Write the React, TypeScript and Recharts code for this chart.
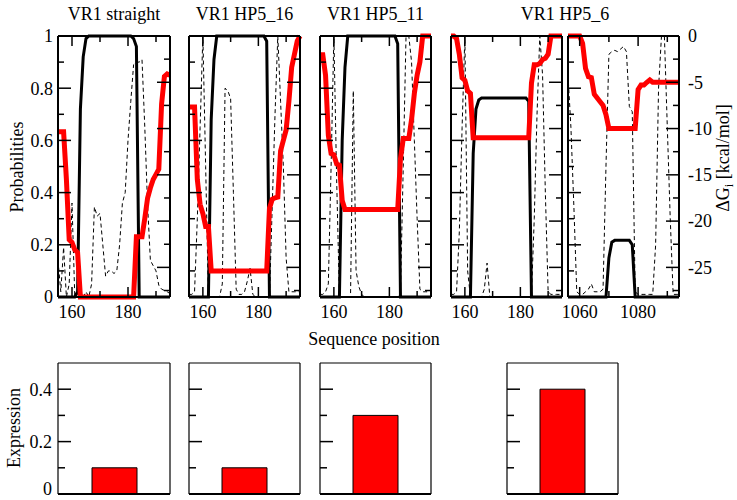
import React from 'react';
import { ComposedChart, Line, XAxis, YAxis, BarChart, Bar } from 'recharts';

const FONT = '"Liberation Serif", "Times New Roman", serif';
const TXT = { fontFamily: FONT, fontSize: 18 };

// ---------- categories / ticks ----------
const panelTitles = ['VR1 straight', 'VR1 HP5_16', 'VR1 HP5_11', 'VR1 HP5_6'];
const positionsVR1 = [155,156,157,158,159,160,161,162,163,164,165,166,167,168,169,170,171,172,173,174,175,176,177,178,179,180,181,182,183,184,185,186,187,188,189,190,191,192,193,194,195];
const positionsHP56 = [1056,1057,1058,1059,1060,1061,1062,1063,1064,1065,1066,1067,1068,1069,1070,1071,1072,1073,1074,1075,1076,1077,1078,1079,1080,1081,1082,1083,1084,1085,1086,1087,1088,1089,1090,1091,1092,1093,1094];
const xTicksVR1 = [160, 170, 180, 190];
const xLabelsVR1 = [160, 180];
const xTicksHP56 = [1060, 1070, 1080, 1090];
const xLabelsHP56 = [1060, 1080];
const probTicks = [0, 0.1, 0.2, 0.3, 0.4, 0.5, 0.6, 0.7, 0.8, 0.9, 1];
const dgTicks = [0, -2.5, -5, -7.5, -10, -12.5, -15, -17.5, -20, -22.5, -25, -27.5];
const exprTicks = [0, 0.1, 0.2, 0.3, 0.4, 0.5];

// ---------- series: VR1 straight ----------
const straightMain = [0,0,0,0,0,0,0,0.02,0.72,0.92,0.99,1,1,1,1,1,1,1,1,1,1,1,1,1,1,1,1,0.99,0.96,0,0,0,0,0,0,0,0,0,0,0,0];
const straightAlt = [0.14,0.02,0.19,0,0.05,0.36,0,0,0,0,0.02,0,0.05,0.345,0.31,0.32,0.2,0.08,0.1,0.1,0.09,0.1,0.2,0.36,0.4,0.6,0.75,0.89,0.9,0.9,0.91,0.65,0.35,0.14,0.12,0.1,0.045,0.03,0.025,0.02,0.013];
const straightDG = [-10.35,-10.35,-10.35,-15.5,-22.0,-22.3,-23.1,-23.4,-28.2,-28.2,-28.2,-28.2,-28.2,-28.2,-28.2,-28.2,-28.2,-28.2,-28.2,-28.2,-28.2,-28.2,-28.2,-28.2,-28.2,-28.2,-28.2,-28.2,-21.7,-21.7,-21.7,-19.7,-17.5,-16.4,-15.5,-14.95,-14.38,-7.33,-4.37,-4.09,-4.23];

// ---------- series: VR1 HP5_16 ----------
const hp16Main = [0,0,0,0,0,0,0,0,0.68,0.91,1,1,1,1,1,1,1,1,1,1,1,1,1,1,1,1,1,1,0.98,0,0,0,0,0,0,0,0,0,0,0,0];
const hp16Alt = [0.01,0.01,0.02,0.3,0.65,1,0.5,0,0,0,0,0,0.05,0.8,0.79,0.76,0.4,0.03,0.01,0.01,0.02,0.06,0.11,0.01,0,0,0,0,0,0,0.35,0.7,1,0.75,0.5,0.15,0.02,0.02,0.02,0.02,0.02];
const hp16DG = [-7.67,-7.67,-7.67,-15.51,-18.19,-19.18,-20.59,-20.59,-25.38,-25.38,-25.38,-25.38,-25.38,-25.38,-25.38,-25.38,-25.38,-25.38,-25.38,-25.38,-25.38,-25.38,-25.38,-25.38,-25.38,-25.38,-25.38,-25.38,-25.38,-18.61,-17.63,-17.48,-17.4,-12.41,-11.28,-10.15,-7.05,-3.38,-1.97,-0.56,0];

// ---------- series: VR1 HP5_11 ----------
const hp11Main = [0,0,0,0,0,0,0,0,0.6,0.88,1,1,1,1,1,1,1,1,1,1,1,1,1,1,1,1,1,1,0.97,0,0,0,0,0,0,0,0,0,0,0,0];
const hp11Alt = [0.01,0.01,0.02,0.05,0.5,1,0.45,0,0,0,0,0,0.79,0.1,0.04,0.01,0,0,0,0,0,0,0,0,0,0,0,0,0,0.02,0.5,1,1,0.9,0.6,0.3,0.03,0.02,0.02,0.02,0.02];
const hp11DG = [-2.03,-2.03,-4.23,-10.72,-12.69,-12.83,-13.82,-13.96,-17.77,-18.75,-18.75,-18.75,-18.75,-18.75,-18.75,-18.75,-18.75,-18.75,-18.75,-18.75,-18.75,-18.75,-18.75,-18.75,-18.75,-18.75,-18.75,-18.75,-18.75,-13.25,-11.08,-11.08,-11.08,-9.02,-6.2,-4.23,-2.82,0,0,0,0];

// ---------- series: VR1 HP5_6 (first segment) ----------
const hp6aMain = [0,0,0,0,0,0,0,0,0.55,0.72,0.755,0.762,0.762,0.762,0.762,0.762,0.762,0.762,0.762,0.762,0.762,0.762,0.762,0.762,0.762,0.762,0.762,0.762,0.75,0,0,0,0,0,0,0,0,0,0,0,0];
const hp6aAlt = [0.01,0.01,0.02,0.25,0.65,1,0.1,0,0,0,0,0,0.03,0.13,0,0,0,0,0,0,0,0,0,0,0,0,0,0,0,0.01,0.3,0.7,1,0.85,0.4,0.02,0.01,0.01,0.01,0.01,0.01];
const hp6aDG = [0,0,-0.28,-1.97,-4.51,-4.79,-5.92,-6.2,-11.0,-11.0,-11.0,-11.0,-11.0,-11.0,-11.0,-11.0,-11.0,-11.0,-11.0,-11.0,-11.0,-11.0,-11.0,-11.0,-11.0,-11.0,-11.0,-11.0,-11.0,-5.08,-3.1,-3.1,-2.96,-2.54,-2.4,-1.97,0,0,0,0,0];

// ---------- series: VR1 HP5_6 (second segment) ----------
const hp6bMain = [0,0,0,0,0,0,0,0,0,0,0,0,0,0,0.15,0.21,0.217,0.217,0.217,0.217,0.217,0.217,0.2,0,0,0,0,0,0,0,0,0,0,0,0,0,0,0,0];
const hp6bAlt = [0.85,0.65,0.35,0.02,0.01,0.01,0.02,0.03,0.05,0.02,0.02,0.02,0.03,0.5,0.93,0.94,0.945,0.94,0.95,0.96,0.94,0.73,0.71,0.02,0.01,0.01,0.01,0.01,0.01,0.01,0.2,0.8,1,1,0.65,0.3,0.01,0.01,0.01];
const hp6bDG = [0,0,0,0,0,-0.8,-3.5,-4.4,-4.5,-6.3,-6.7,-7.1,-7.5,-8.5,-10,-10,-10,-10,-10,-10,-10,-10,-10,-10,-5.8,-5.3,-5.3,-5.0,-4.75,-5.0,-5,-5,-5,-5,-5,-5,-5,-5,-5];

// ---------- expression ----------
const expressionNames = ['VR1 straight', 'VR1 HP5_16', 'VR1 HP5_11', 'VR1 HP5_6'];
const expressionValues = [0.1, 0.1, 0.3, 0.4];

type Row = { pos: number; main: number; alt: number; dg: number };
function buildRows(pos: number[], main: number[], alt: number[], dg: number[]): Row[] {
  return pos.map((p, i) => ({ pos: p, main: main[i], alt: alt[i], dg: dg[i] }));
}

const ML = 50, MR = 50, MT = 12, MB = 30;

const fmtProb = (v: number) => (v === 0 ? '0' : v === 1 ? '1' : v.toFixed(1));

type TopProps = {
  left: number; top: number; width: number; height: number; rows: Row[];
  xDomain: [number, number]; xTicks: number[]; xLabels: number[];
  showProb: boolean; showDg: boolean;
};

function TopPanel(p: TopProps) {
  const W = p.width + ML + MR;
  const H = p.height + MT + MB;
  const plotL = ML, plotR = ML + p.width, plotT = MT, plotB = MT + p.height;

  const bottomTick = (t: any) => {
    const v = t.payload.value;
    const major = p.xLabels.includes(v);
    const len = major ? 10 : 6;
    return (
      <g>
        <line x1={t.x} x2={t.x} y1={plotB} y2={plotB - len} stroke="#000" strokeWidth={1.5} />
        {major && (
          <text x={t.x} y={plotB + 21} textAnchor="middle" fontFamily={FONT} fontSize={18} style={TXT} fill="#000">{v}</text>
        )}
      </g>
    );
  };
  const topTick = (t: any) => {
    const v = t.payload.value;
    const major = p.xLabels.includes(v);
    const len = major ? 10 : 6;
    return <line x1={t.x} x2={t.x} y1={plotT} y2={plotT + len} stroke="#000" strokeWidth={1.5} />;
  };
  const probTick = (t: any) => {
    const v = t.payload.value;
    const major = Math.round(v * 10) % 2 === 0;
    const len = major ? 13 : 6;
    return (
      <g>
        <line x1={plotL} x2={plotL + len} y1={t.y} y2={t.y} stroke="#000" strokeWidth={1.5} />
        {p.showProb && major && (
          <text x={plotL - 5} y={t.y} dy="0.35em" textAnchor="end" fontFamily={FONT} fontSize={18} style={TXT} fill="#000">{fmtProb(v)}</text>
        )}
      </g>
    );
  };
  const dgTick = (t: any) => {
    const v = t.payload.value;
    const major = v % 5 === 0;
    const len = major ? 13 : 6;
    return (
      <g>
        <line x1={plotR} x2={plotR - len} y1={t.y} y2={t.y} stroke="#000" strokeWidth={1.5} />
        {p.showDg && major && (
          <text x={plotR + 9} y={t.y} dy="0.35em" textAnchor="start" fontFamily={FONT} fontSize={18} style={TXT} fill="#000">{String(v)}</text>
        )}
      </g>
    );
  };

  const axisLine = { stroke: '#000', strokeWidth: 2 };
  return (
    <div style={{ position: 'absolute', left: p.left - ML, top: p.top - MT }}>
      <ComposedChart width={W} height={H} data={p.rows} margin={{ top: 0, right: 0, bottom: 0, left: 0 }}>
        <XAxis xAxisId="b" dataKey="pos" type="number" domain={p.xDomain} ticks={p.xTicks} interval={0}
          height={MB} tickLine={false} axisLine={axisLine} tick={bottomTick} />
        <XAxis xAxisId="t" orientation="top" dataKey="pos" type="number" domain={p.xDomain} ticks={p.xTicks} interval={0}
          height={MT} tickLine={false} axisLine={axisLine} tick={topTick} />
        <YAxis yAxisId="p" domain={[0, 1]} ticks={probTicks} interval={0} width={ML}
          tickLine={false} axisLine={axisLine} tick={probTick} />
        <YAxis yAxisId="g" orientation="right" domain={[-28.2, 0]} ticks={dgTicks} interval={0} width={MR}
          tickLine={false} axisLine={axisLine} tick={dgTick} />
        <Line xAxisId="b" yAxisId="p" type="linear" dataKey="alt" stroke="#000" strokeWidth={1}
          strokeDasharray="4 3" dot={false} isAnimationActive={false} />
        <Line xAxisId="b" yAxisId="p" type="linear" dataKey="main" stroke="#000" strokeWidth={3}
          dot={false} isAnimationActive={false} />
        <Line xAxisId="b" yAxisId="g" type="linear" dataKey="dg" stroke="#ff0000" strokeWidth={5}
          dot={false} isAnimationActive={false} />
      </ComposedChart>
    </div>
  );
}

const EMT = 6, EMB = 6;

function ExprPanel(p: { left: number; top: number; width: number; height: number; name: string; value: number; showLabels: boolean }) {
  const W = p.width + ML + MR;
  const H = p.height + EMT + EMB;
  const plotL = ML, plotR = ML + p.width;
  const data = [{ name: p.name, value: p.value }];
  const leftTick = (t: any) => {
    const v = t.payload.value;
    const major = Math.round(v * 10) % 2 === 0;
    const len = major ? 13 : 7;
    return (
      <g>
        {v > 0 && v < 0.5 && <line x1={plotL} x2={plotL + len} y1={t.y} y2={t.y} stroke="#000" strokeWidth={1.5} />}
        {p.showLabels && major && v < 0.5 && (
          <text x={plotL - 6} y={t.y} dy={v === 0 ? '0.05em' : '0.35em'} textAnchor="end" fontFamily={FONT} fontSize={18} style={TXT} fill="#000">{v === 0 ? '0' : v.toFixed(1)}</text>
        )}
      </g>
    );
  };
  const rightTick = (t: any) => {
    const v = t.payload.value;
    const major = Math.round(v * 10) % 2 === 0;
    const len = major ? 13 : 7;
    return v > 0 && v < 0.5 ? <line x1={plotR} x2={plotR - len} y1={t.y} y2={t.y} stroke="#000" strokeWidth={1.5} /> : <g />;
  };
  return (
    <div style={{ position: 'absolute', left: p.left - ML, top: p.top - EMT }}>
      <BarChart width={W} height={H} data={data} margin={{ top: 0, right: 0, bottom: 0, left: 0 }}>
        <XAxis xAxisId="b" dataKey="name" type="category" height={EMB} tick={false} tickLine={false}
          axisLine={{ stroke: '#000', strokeWidth: 2 }} />
        <XAxis xAxisId="t" orientation="top" dataKey="name" type="category" height={EMT} tick={false} tickLine={false}
          axisLine={{ stroke: '#000', strokeWidth: 1.2 }} />
        <YAxis yAxisId="l" domain={[0, 0.5]} ticks={exprTicks} interval={0} width={ML} tickLine={false}
          axisLine={{ stroke: '#000', strokeWidth: 1.2 }} tick={leftTick} />
        <YAxis yAxisId="r" orientation="right" domain={[0, 0.5]} ticks={exprTicks} interval={0} width={MR} tickLine={false}
          axisLine={{ stroke: '#000', strokeWidth: 1.2 }} tick={rightTick} />
        <Bar xAxisId="b" yAxisId="l" dataKey="value" fill="#ff0000" stroke="#000" strokeWidth={1} barSize={45}
          isAnimationActive={false} />
      </BarChart>
    </div>
  );
}

const topLefts = [58, 189, 320, 451, 568];
const exprLefts = [58, 189, 320, 507];
const titleCenters = [114, 244.5, 375.5, 565];

export default function App() {
  const panels = [
    { rows: buildRows(positionsVR1, straightMain, straightAlt, straightDG), dom: [155, 195] as [number, number], ticks: xTicksVR1, labels: xLabelsVR1 },
    { rows: buildRows(positionsVR1, hp16Main, hp16Alt, hp16DG), dom: [155, 195] as [number, number], ticks: xTicksVR1, labels: xLabelsVR1 },
    { rows: buildRows(positionsVR1, hp11Main, hp11Alt, hp11DG), dom: [155, 195] as [number, number], ticks: xTicksVR1, labels: xLabelsVR1 },
    { rows: buildRows(positionsVR1, hp6aMain, hp6aAlt, hp6aDG), dom: [155, 195] as [number, number], ticks: xTicksVR1, labels: xLabelsVR1 },
    { rows: buildRows(positionsHP56, hp6bMain, hp6bAlt, hp6bDG), dom: [1056, 1094] as [number, number], ticks: xTicksHP56, labels: xLabelsHP56 },
  ];
  return (
    <div style={{ position: 'absolute', left: 0, top: 0, width: 737, height: 500, background: '#fff', overflow: 'hidden' }}>
      {panels.map((pn, i) => (
        <TopPanel key={i} left={topLefts[i]} top={36} width={i === 0 ? 112 : 111} height={261} rows={pn.rows}
          xDomain={pn.dom} xTicks={pn.ticks} xLabels={pn.labels} showProb={i === 0} showDg={i === 4} />
      ))}
      {expressionValues.map((v, i) => (
        <ExprPanel key={i} left={exprLefts[i]} top={363} width={i === 0 ? 112 : 111} height={131}
          name={expressionNames[i]} value={v} showLabels={i === 0} />
      ))}
      <svg width={737} height={500} style={{ position: 'absolute', left: 0, top: 0, pointerEvents: 'none' }}>
        {panelTitles.map((t, i) => (
          <text key={t} x={titleCenters[i]} y={20} textAnchor="middle" fontFamily={FONT} fontSize={18} style={TXT} fill="#000">{t}</text>
        ))}
        <text x={374} y={345} textAnchor="middle" fontFamily={FONT} fontSize={18} style={TXT} fill="#000">Sequence position</text>
        <text transform="translate(23,167) rotate(-90)" textAnchor="middle" fontFamily={FONT} fontSize={18} style={TXT} fill="#000">Probabilities</text>
        <text transform="translate(20,428) rotate(-90)" textAnchor="middle" fontFamily={FONT} fontSize={18} style={TXT} fill="#000">Expression</text>
        <text transform="translate(729,158) rotate(-90)" textAnchor="middle" fontFamily={FONT} fontSize={18} style={TXT} fill="#000">
          <tspan>ΔG</tspan>
          <tspan dy={4} fontSize={12}>i</tspan>
          <tspan dy={-4}> [kcal/mol]</tspan>
        </text>
      </svg>
    </div>
  );
}
